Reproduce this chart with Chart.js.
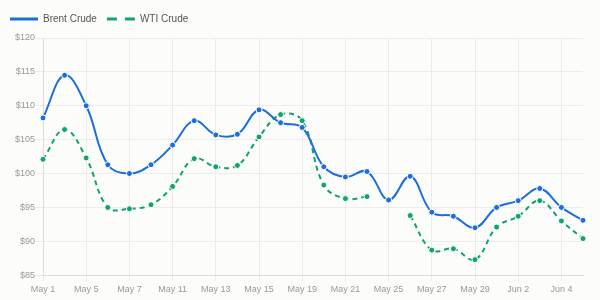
<!DOCTYPE html>
<html>
<head>
  <meta charset="UTF-8">
  <title>Brent vs WTI</title>
  <script src="https://cdn.jsdelivr.net/npm/chart.js"></script>
  <style>
    html, body { margin: 0; padding: 0; background: #fcfcfa; }
    #wrap { width: 600px; height: 300px; }
  </style>
</head>
<body>
  <div id="wrap"><canvas id="oilChart"></canvas></div>

  <script>
    const fechas = ['May 1', 'May 2', 'May 5', 'May 6', 'May 7', 'May 8', 'May 11', 'May 12', 'May 13', 'May 14',
      'May 15', 'May 18', 'May 19', 'May 20', 'May 21', 'May 22', 'May 25', 'May 26', 'May 27', 'May 28',
      'May 29', 'Jun 1', 'Jun 2', 'Jun 3', 'Jun 4', 'Jun 5'];
    const brent = [108.2, 114.5, 110.0, 101.3, 100.0, 101.3, 104.2, 107.8, 105.7, 105.8,
      109.4, 107.5, 106.8, 101.0, 99.5, 100.3, 96.1, 99.6, 94.3, 93.7,
      92.0, 95.0, 96.0, 97.8, 95.0, 93.1];
    const wti = [102.1, 106.5, 102.3, 95.0, 94.8, 95.4, 98.1, 102.2, 101.0, 101.2,
      105.4, 108.7, 107.8, 98.3, 96.3, 96.6, null, 93.8, 88.7, 88.9,
      87.3, 92.1, 93.7, 96.0, 93.0, 90.4];

    const azul = '#1c6ed8';
    const verde = '#10a36f';
    const fuente = '"Liberation Sans", Arial, sans-serif';

    // un poco de aire bajo la leyenda
    const margenLeyenda = {
      id: 'margenLeyenda',
      beforeInit(c) {
        const fitOriginal = c.legend.fit;
        c.legend.fit = function () {
          fitOriginal.bind(c.legend)();
          this.height += 4;
        };
      }
    };

    const ctx = document.getElementById('oilChart').getContext('2d');
    const chart = new Chart(ctx, {
      type: 'line',
      data: {
        labels: fechas,
        datasets: [{
          label: 'Brent Crude',
          data: brent,
          borderColor: azul,
          backgroundColor: azul,
          borderWidth: 2,
          tension: 0.4,
          pointRadius: 3,
          pointBackgroundColor: azul,
          pointBorderColor: '#ffffff',
          pointBorderWidth: 1
        }, {
          label: 'WTI Crude',
          data: wti,
          borderColor: verde,
          backgroundColor: verde,
          borderWidth: 2,
          borderDash: [5, 4],
          tension: 0.4,
          spanGaps: false,
          pointRadius: 3,
          pointBackgroundColor: verde,
          pointBorderColor: '#ffffff',
          pointBorderWidth: 1
        }]
      },
      options: {
        responsive: true,
        maintainAspectRatio: false,
        animation: false,
        layout: { padding: { left: 0, right: 17, top: 4, bottom: 2 } },
        plugins: {
          legend: {
            display: true,
            align: 'start',
            labels: {
              usePointStyle: true,
              pointStyle: 'line',
              pointStyleWidth: 28,
              boxHeight: 10,
              padding: 10,
              color: '#555555',
              font: { family: fuente, size: 10 },
              generateLabels: (c) => {
                const items = Chart.defaults.plugins.legend.labels.generateLabels(c);
                items.forEach(it => {
                  const color = it.datasetIndex === 1 ? verde : azul;
                  it.strokeStyle = color;
                  it.fillStyle = color;
                  it.lineWidth = 3;
                  it.lineDash = it.datasetIndex === 1 ? [10, 8] : [];
                });
                return items;
              }
            }
          },
          tooltip: { enabled: false }
        },
        scales: {
          x: {
            grid: { color: '#ececec', tickLength: 6 },
            border: { color: '#dcdcdc' },
            ticks: {
              color: '#999999',
              font: { family: fuente, size: 9 },
              maxRotation: 0,
              autoSkip: true,
              padding: 3
            }
          },
          y: {
            min: 85,
            max: 120,
            grid: { color: '#ececec', tickLength: 7 },
            border: { color: '#dcdcdc' },
            afterFit: (scale) => { scale.width = 43; },
            ticks: {
              stepSize: 5,
              color: '#999999',
              font: { family: fuente, size: 9 },
              padding: 1,
              callback: (v) => '$' + v
            }
          }
        }
      },
      plugins: [margenLeyenda]
    });
  </script>
</body>
</html>
